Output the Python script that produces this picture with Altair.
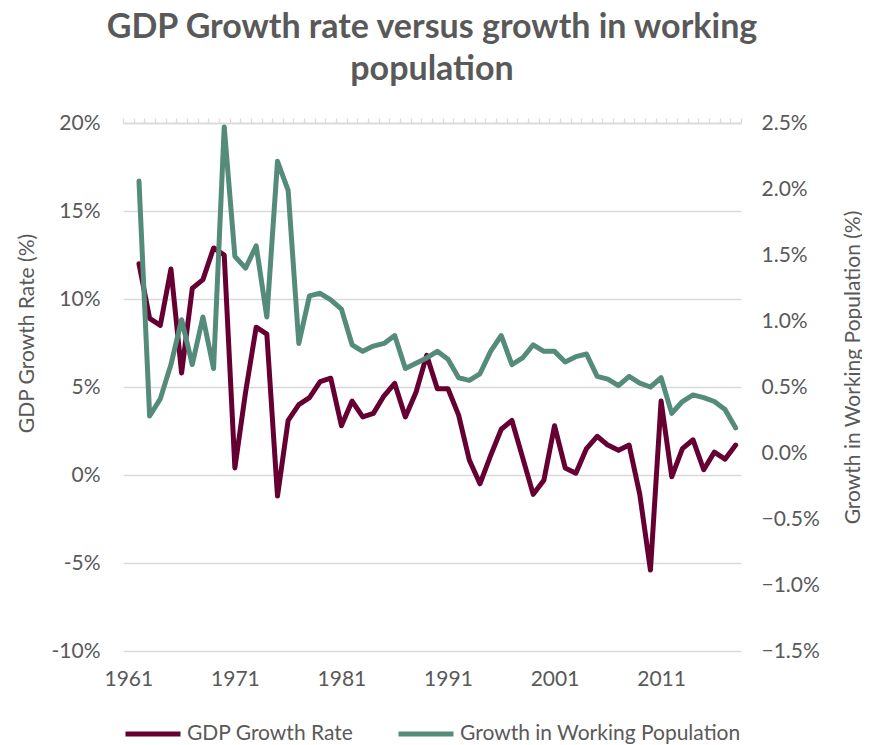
import altair as alt
import pandas as pd

years = list(range(1962, 2019))
gdp_growth = [12.0, 8.9, 8.5, 11.7, 5.8, 10.6, 11.1, 12.9, 12.5, 0.4,
              4.7, 8.4, 8.0, -1.2, 3.1, 4.0, 4.4, 5.3, 5.5, 2.8,
              4.2, 3.3, 3.5, 4.5, 5.2, 3.3, 4.7, 6.8, 4.9, 4.9,
              3.4, 0.85, -0.5, 1.1, 2.6, 3.1, 1.0, -1.1, -0.3, 2.8,
              0.4, 0.1, 1.5, 2.2, 1.7, 1.4, 1.7, -1.1, -5.4, 4.2,
              -0.1, 1.5, 2.0, 0.3, 1.3, 0.9, 1.7]
pop_growth = [2.06, 0.28, 0.41, 0.67, 1.01, 0.67, 1.03, 0.64, 2.47, 1.49,
              1.40, 1.57, 1.03, 2.21, 1.99, 0.83, 1.19, 1.21, 1.16, 1.09,
              0.82, 0.77, 0.81, 0.83, 0.89, 0.64, 0.68, 0.72, 0.77, 0.71,
              0.57, 0.55, 0.60, 0.77, 0.89, 0.67, 0.72, 0.82, 0.77, 0.77,
              0.69, 0.73, 0.75, 0.58, 0.56, 0.51, 0.58, 0.53, 0.50, 0.57,
              0.30, 0.39, 0.44, 0.42, 0.39, 0.33, 0.19]

series_names = ["GDP Growth Rate", "Growth in Working Population"]
series_colors = ["#660033", "#558B7B"]
x_labels = [1961, 1971, 1981, 1991, 2001, 2011]
left_ticks = [-10, -5, 0, 5, 10, 15, 20]
right_ticks = [-1.5, -1.0, -0.5, 0.0, 0.5, 1.0, 1.5, 2.0, 2.5]
cat_edges = [y - 0.5 for y in range(1961, 2020)]

df = pd.DataFrame({
    "year": years * 2,
    "series": [series_names[0]] * len(years) + [series_names[1]] * len(years),
    "value": gdp_growth + pop_growth,
})

FONT = "Lato"
GREY = "#595959"
GRID = "#D9D9D9"

xscale = alt.Scale(domain=[1960.5, 2018.5], nice=False, zero=False)
color = alt.Color("series:N",
                  scale=alt.Scale(domain=series_names, range=series_colors),
                  legend=alt.Legend(title=None, orient="none", legendX=0, legendY=581,
                                    direction="horizontal", symbolType="stroke",
                                    symbolSize=3025, symbolStrokeWidth=5,
                                    labelFontSize=21, labelFont=FONT, labelColor=GREY,
                                    labelOffset=4, columnPadding=34, labelLimit=400))

base = alt.Chart(df)

gdp = base.transform_filter(alt.datum.series == series_names[0]).mark_line(
    strokeWidth=5, strokeJoin="round", strokeCap="round"
).encode(
    x=alt.X("year:Q", scale=xscale,
            axis=alt.Axis(orient="bottom", values=x_labels, format="d", title=None,
                          ticks=False, domain=False, grid=False, labelFontSize=21,
                          labelFont=FONT, labelColor=GREY, labelPadding=17)),
    y=alt.Y("value:Q", scale=alt.Scale(domain=[-10, 20], nice=False),
            axis=alt.Axis(orient="left", values=left_ticks, labelExpr="datum.value + '%'",
                          title="GDP Growth Rate (%)", titleFontSize=21, titleFont=FONT,
                          titleColor=GREY, titleFontWeight="normal", titleAngle=270,
                          titleX=-96, titleY=210, titleAlign="center", titleBaseline="middle",
                          ticks=False, domain=False, grid=True, gridColor=GRID, gridWidth=1.3,
                          labelFontSize=21, labelFont=FONT, labelColor=GREY, labelPadding=23)),
    color=color,
)

pop = base.transform_filter(alt.datum.series == series_names[1]).mark_line(
    strokeWidth=5, strokeJoin="round", strokeCap="round"
).encode(
    x=alt.X("year:Q", scale=xscale,
            axis=alt.Axis(orient="top", values=cat_edges, labels=False, title=None,
                          ticks=True, tickSize=5, tickColor=GRID, tickWidth=1.3,
                          domain=True, domainColor=GRID, domainWidth=1.3, grid=False)),
    y=alt.Y("value:Q", scale=alt.Scale(domain=[-1.5, 2.5], nice=False),
            axis=alt.Axis(orient="right", values=right_ticks,
                          labelExpr="format(datum.value, '.1f') + '%'",
                          title="Growth in Working Population (%)", titleFontSize=21,
                          titleFont=FONT, titleColor=GREY, titleFontWeight="normal",
                          titleAngle=270, titleX=112, titleY=244, titleAlign="center",
                          titleBaseline="middle", ticks=False, domain=False, grid=False,
                          labelFontSize=21, labelFont=FONT, labelColor=GREY, labelPadding=20)),
    color=color,
)

chart = alt.layer(gdp, pop).resolve_scale(
    y="independent", x="shared", color="shared"
).resolve_axis(
    x="independent", y="independent"
).properties(
    width=618, height=528,
    padding={"left": 115, "top": 115, "right": 121, "bottom": 117},
    autosize=alt.AutoSizeParams(type="none"),
    title=alt.TitleParams(["GDP Growth rate versus growth in working", "population"],
                          font=FONT, fontSize=34, fontWeight="bold", color=GREY,
                          anchor="middle", lineHeight=42, offset=25),
).configure_view(stroke=None)

chart.save("out.html", embed_options={"renderer": "svg", "actions": False})
